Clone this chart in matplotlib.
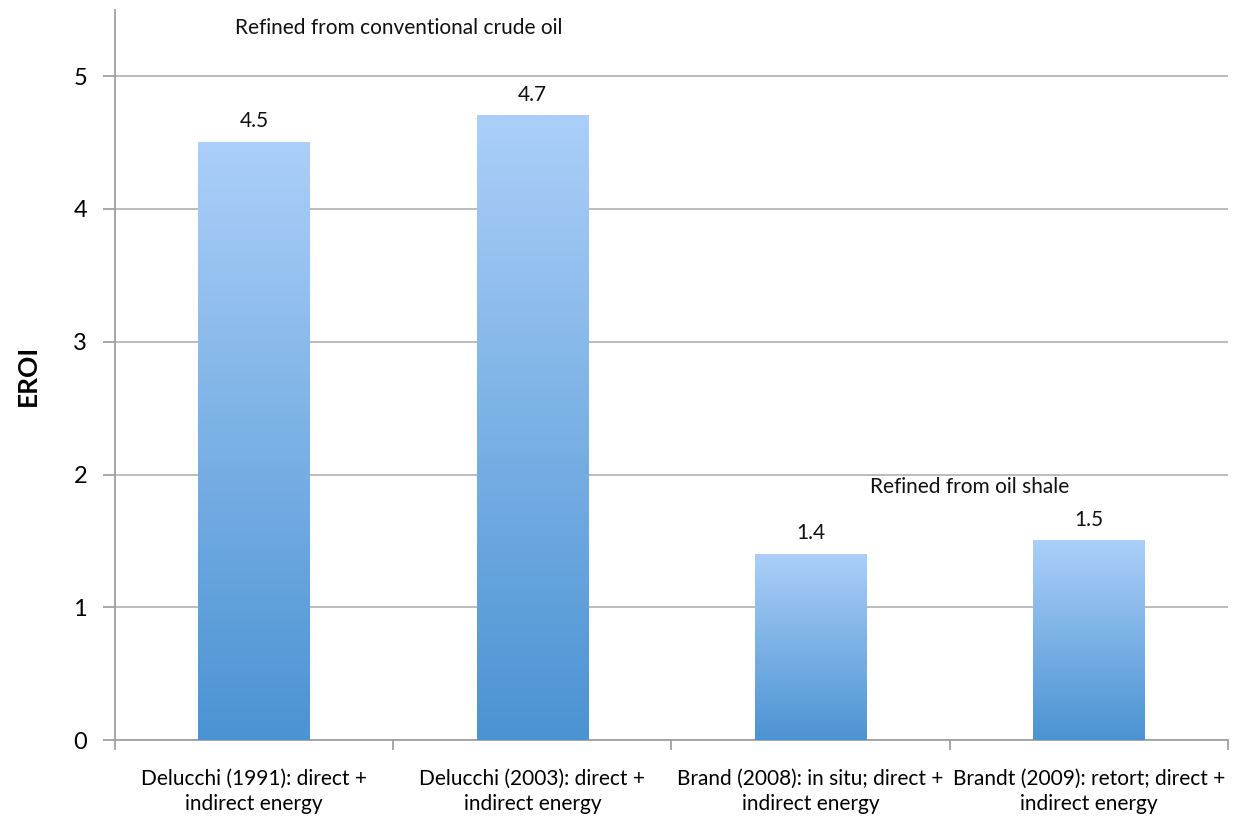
import numpy as np
import matplotlib.pyplot as plt
from matplotlib.colors import LinearSegmentedColormap

# data
labels = ["Delucchi (1991): direct +\nindirect energy",
          "Delucchi (2003): direct +\nindirect energy",
          "Brand (2008): in situ; direct +\nindirect energy",
          "Brandt (2009): retort; direct +\nindirect energy"]
eroi = [4.5, 4.7, 1.4, 1.5]
yticks = [0, 1, 2, 3, 4, 5]

plt.rcParams['font.family'] = ['Lato', 'DejaVu Sans']

fig = plt.figure(figsize=(12.36, 8.16), dpi=100)
ax = fig.add_axes([0.093, 0.093, 0.9005, 0.895])

x = np.arange(len(eroi))
bars = ax.bar(x, eroi, width=0.4, color='none', edgecolor='none', zorder=3)

# vertical gradient in each bar (dark at bottom, light at top)
cmap = LinearSegmentedColormap.from_list('blues', ['#4b93d3', '#abcff8'])
grad = np.linspace(0, 1, 256).reshape(-1, 1)
for b in bars:
    x0, w, h = b.get_x(), b.get_width(), b.get_height()
    ax.imshow(grad, cmap=cmap, aspect='auto', origin='lower',
              extent=(x0, x0 + w, 0, h), zorder=3)
    ax.annotate(f"{h:.1f}", (x0 + w / 2, h), xytext=(0, 8),
                textcoords='offset points', ha='center', va='bottom',
                fontsize=15, color='#111111')

ax.set_xlim(-0.5, len(eroi) - 0.5)
ax.set_ylim(0, 5.5)
ax.set_yticks(yticks)
ax.set_yticklabels([str(t) for t in yticks], fontsize=17)
ax.grid(axis='y', color='#b0b0b0', linewidth=1.2, zorder=0)
ax.set_axisbelow(True)

ax.set_xticks(x)
ax.set_xticklabels(labels, fontsize=15, linespacing=1.3)
ax.set_xticks(np.arange(-0.5, len(eroi)), minor=True)
ax.tick_params(axis='x', which='major', length=0, pad=21)
ax.tick_params(axis='x', which='minor', length=7, width=1.3, color='#a0a0a0')
ax.tick_params(axis='y', length=9, width=1.3, color='#a0a0a0', pad=11)

for s in ['top', 'right']:
    ax.spines[s].set_visible(False)
for s in ['left', 'bottom']:
    ax.spines[s].set_color('#a0a0a0')
    ax.spines[s].set_linewidth(1.3)

ax.set_ylabel("EROI", fontsize=19, fontweight='bold', labelpad=24)

ax.text(0.52, 5.36, "Refined from conventional crude oil", ha='center',
        va='center', fontsize=15, color='#111111')
ax.text(2.57, 1.905, "Refined from oil shale", ha='center',
        va='center', fontsize=15, color='#111111')

fig.savefig("out.png", dpi=100)
